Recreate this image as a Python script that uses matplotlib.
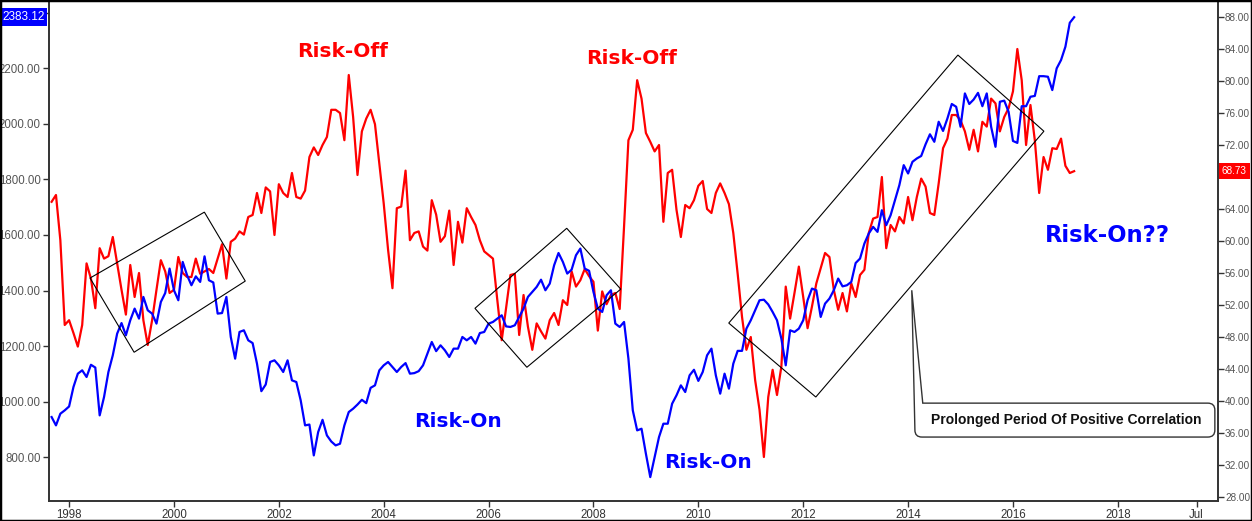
import matplotlib
matplotlib.use("Agg")
import matplotlib.pyplot as plt
import numpy as np
import pandas as pd
from matplotlib.path import Path
from matplotlib.patches import PathPatch, Polygon, Rectangle
from matplotlib.transforms import blended_transform_factory

# monthly closes, Sep 1997 .. Mar 2017
# red series -> right axis
RED_BY_YEAR = [
    [64.9, 65.75, 60.1, 49.5],
    [50.1, 48.5, 46.8, 49.5, 57.2, 55.3, 51.6, 59.1, 57.8, 58.1, 60.5, 57.2],
    [53.9, 50.8, 57.0, 53.0, 56.0, 50.1, 47.0, 50.1, 53.9, 57.6, 56.2, 53.5],
    [53.9, 58.0, 56.0, 55.5, 55.5, 57.8, 55.9, 56.2, 56.5, 56.0, 57.8, 59.6],
    [55.3, 59.9, 60.3, 61.2, 60.8, 63.0, 63.25, 66.0, 63.5, 66.7, 66.2, 60.75],
    [67.1, 66.0, 65.5, 68.5, 65.5, 65.3, 66.3, 70.5, 71.7, 70.75, 72.0, 73.0],
    [76.4, 76.4, 76.0, 72.6, 80.75, 75.5, 68.25, 73.7, 75.3, 76.4, 74.6, 69.7],
    [64.7, 58.9, 54.1, 64.1, 64.3, 68.8, 60.1, 61.0, 61.2, 59.3, 58.8, 65.1],
    [63.3, 59.9, 60.6, 63.8, 57.0, 62.4, 59.8, 64.1, 63.0, 62.0, 60.1, 58.7],
    [58.25, 57.8, 52.6, 47.6, 51.6, 55.75, 55.9, 48.25, 53.25, 49.3, 46.4, 49.7],
    [48.7, 47.8, 50.1, 51.0, 49.5, 52.6, 52.0, 56.2, 54.3, 55.1, 56.5, 55.6],
    [54.9, 48.8, 53.7, 52.1, 53.25, 53.5, 51.5, 61.8, 72.6, 73.9, 80.1, 77.8],
    [73.5, 72.4, 71.2, 72.0, 62.4, 68.5, 68.9, 63.9, 60.5, 64.5, 64.1, 65.1],
    [66.9, 67.5, 64.0, 63.5, 66.0, 67.2, 66.0, 64.6, 61.0, 55.9, 50.5, 46.4],
    [48.0, 42.6, 38.9, 33.0, 40.5, 43.9, 40.75, 44.3, 54.3, 50.3, 53.5, 56.8],
    [53.0, 49.1, 51.8, 54.7, 56.6, 58.5, 58.0, 53.9, 51.4, 53.5, 51.2, 54.7],
    [53.0, 55.75, 56.4, 61.0, 62.8, 63.0, 68.0, 59.1, 62.0, 61.2, 63.0, 62.2],
    [65.5, 62.6, 65.5, 67.8, 66.8, 63.5, 63.25, 67.2, 71.6, 72.8, 75.75, 75.75],
    [75.1, 73.7, 71.4, 73.9, 71.2, 74.9, 74.3, 77.8, 77.2, 73.7, 75.5, 76.6],
    [78.7, 84.0, 80.1, 72.0, 77.0, 72.6, 66.0, 70.5, 68.9, 71.6, 71.5, 72.8],
    [69.4, 68.5, 68.73],
]

# blue series -> left axis
BLUE_BY_YEAR = [
    [945, 915, 957, 969],
    [983, 1053, 1101, 1113, 1089, 1133, 1123, 951, 1017, 1107, 1167, 1245],
    [1283, 1239, 1293, 1335, 1299, 1377, 1329, 1317, 1281, 1359, 1391, 1479],
    [1401, 1365, 1503, 1455, 1419, 1451, 1431, 1523, 1437, 1429, 1317, 1319],
    [1377, 1233, 1155, 1251, 1257, 1221, 1211, 1137, 1038, 1062, 1143, 1149],
    [1131, 1107, 1149, 1077, 1071, 1005, 915, 918, 807, 891, 935, 879],
    [857, 843, 849, 915, 963, 975, 990, 1007, 995, 1050, 1059, 1113],
    [1131, 1143, 1125, 1107, 1125, 1139, 1101, 1103, 1110, 1131, 1173, 1215],
    [1182, 1203, 1185, 1161, 1191, 1191, 1233, 1221, 1233, 1209, 1247, 1251],
    [1281, 1287, 1299, 1311, 1271, 1269, 1275, 1305, 1335, 1377, 1395, 1413],
    [1439, 1401, 1425, 1491, 1535, 1503, 1461, 1475, 1527, 1551, 1479, 1471],
    [1395, 1335, 1323, 1383, 1401, 1281, 1269, 1287, 1155, 969, 897, 903],
    [813, 729, 801, 873, 921, 921, 993, 1023, 1059, 1035, 1095, 1115],
    [1075, 1107, 1167, 1191, 1095, 1029, 1101, 1047, 1137, 1183, 1183, 1263],
    [1293, 1329, 1365, 1367, 1350, 1323, 1293, 1227, 1131, 1257, 1251, 1263],
    [1293, 1365, 1407, 1401, 1305, 1353, 1371, 1401, 1443, 1415, 1419, 1431],
    [1499, 1515, 1569, 1605, 1629, 1611, 1689, 1635, 1671, 1725, 1779, 1851],
    [1821, 1863, 1875, 1884, 1926, 1962, 1935, 2007, 1974, 2019, 2071, 2061],
    [1989, 2109, 2071, 2087, 2111, 2063, 2109, 1989, 1917, 2079, 2083, 2043],
    [1938, 1931, 2063, 2063, 2097, 2100, 2171, 2171, 2169, 2121, 2199, 2229],
    [2277, 2363, 2383.12],
]

START = "1997-09-01"
LEFT_TICKS = [800, 1000, 1200, 1400, 1600, 1800, 2000, 2200, 2400]
RIGHT_TICKS = list(range(28, 92, 4))
X_TICKS = list(range(1998, 2020, 2)) + [2019.5]
X_TICKLABELS = [str(y) for y in range(1998, 2020, 2)] + ["Jul"]

# hand-drawn channels (year, left-axis value)
CHANNELS = [
    [(1998.40, 1445), (2000.58, 1682), (2001.36, 1434), (1999.24, 1178)],
    [(2005.74, 1336), (2007.49, 1624), (2008.52, 1405), (2006.73, 1124)],
    [(2010.58, 1283), (2014.95, 2247), (2016.59, 1973), (2012.24, 1017)],
]

LABELS = [
    ("Risk-Off", 2003.21, 2258, "red", 14.5),
    ("Risk-Off", 2008.72, 2236, "red", 14.5),
    ("Risk-On", 2005.42, 930, "blue", 14.5),
    ("Risk-On", 2010.18, 783, "blue", 14.5),
    ("Risk-On??", 2017.80, 1599, "blue", 16.3),
]

CALLOUT_TEXT = "Prolonged Period Of Positive Correlation"
CALLOUT_TIP = (2014.07, 1401)
CALLOUT_BOX = (2014.13, 2019.85, 995, 873)  # x0, x1, y_top, y_bottom


def monthly_x(n):
    d = pd.date_range(START, periods=n, freq="MS")
    return np.asarray(d.year + (d.month - 1) / 12.0)


red = np.array([v for yr in RED_BY_YEAR for v in yr])
blue = np.array([v for yr in BLUE_BY_YEAR for v in yr])
x_red = monthly_x(len(red))
x_blue = monthly_x(len(blue))

W, H = 1252, 521
fig = plt.figure(figsize=(W / 100, H / 100), dpi=100)
ax = fig.add_axes([49 / W, 20 / H, (1218 - 49) / W, 501 / H])
ax2 = ax.twinx()

TICK_FONT = dict(family="Liberation Sans", size=8.3)
RIGHT_FONT = dict(family="Liberation Sans", size=7.2)
GRAY = "#555555"

ax.set_xlim(1997.617, 2019.91)
ax.set_ylim(643, 2445)
ax2.set_ylim(27.5, 90.125)

ax2.plot(x_red, red, color="#ff0000", lw=1.6, zorder=2)
ax.plot(x_blue, blue, color="#0000ff", lw=1.6, zorder=3)
ax.set_zorder(ax2.get_zorder() + 1)
ax.patch.set_visible(False)

for ch in CHANNELS:
    ax.add_patch(Polygon(ch, closed=True, fill=False, ec="black", lw=0.8, zorder=4))

for txt, xx, yy, col, fs in LABELS:
    ax.text(xx, yy, txt, color=col, ha="center", va="center",
            fontsize=fs, fontweight="bold", family="DejaVu Sans", zorder=5)

# ticks and spines; the labels hidden under the last-value tags are left blank
ax.set_xticks(X_TICKS)
ax.set_xticklabels(X_TICKLABELS, color="#333333", **TICK_FONT)
ax.set_yticks(LEFT_TICKS)
ax.set_yticklabels(["" if v == 2400 else f"{v:.2f}" for v in LEFT_TICKS],
                   color=GRAY, **TICK_FONT)
ax2.set_yticks(RIGHT_TICKS)
ax2.set_yticklabels(["" if v == 68 else f"{v:.2f}" for v in RIGHT_TICKS],
                    color=GRAY, **RIGHT_FONT)
ax.tick_params(axis="both", length=4, width=1, color="#333333", pad=2)
ax2.tick_params(axis="y", length=4, width=1, color="#333333", pad=1)
for a in (ax, ax2):
    a.spines["top"].set_visible(False)
    for s in ("left", "right", "bottom"):
        a.spines[s].set_color("#333333")
        a.spines[s].set_linewidth(1.2)

# last-value tags
tl = blended_transform_factory(ax.transAxes, ax.transData)
ax.text(-0.004, blue[-1], f"{blue[-1]:.2f}", transform=tl, ha="right", va="center",
        color="white", fontsize=8.5, family="Liberation Sans", zorder=10, clip_on=False,
        bbox=dict(boxstyle="square,pad=0.25", fc="#0000ff", ec="none"))
tr = blended_transform_factory(ax2.transAxes, ax2.transData)
ax2.text(1.003, red[-1], f"{red[-1]:.2f}", transform=tr, ha="left", va="center",
         color="white", fontsize=7.2, family="Liberation Sans", zorder=10, clip_on=False,
         bbox=dict(boxstyle="square,pad=0.3", fc="#ff0000", ec="none"))

# callout bubble, built in display pixels from data anchors
fig.canvas.draw()
to_px = ax.transData.transform
tip = to_px(CALLOUT_TIP)
x0, x1, yt, yb = CALLOUT_BOX
(L, T), (R, B) = to_px((x0, yt)), to_px((x1, yb))
r = 7
inner = tip[0] + 11
verts = [tuple(tip), (inner, T), (R - r, T), (R, T), (R, T - r), (R, B + r), (R, B),
         (R - r, B), (L + r, B), (L, B), (L, B + r), tuple(tip)]
codes = [Path.MOVETO, Path.LINETO, Path.LINETO, Path.CURVE3, Path.CURVE3, Path.LINETO,
         Path.CURVE3, Path.CURVE3, Path.LINETO, Path.CURVE3, Path.CURVE3, Path.CLOSEPOLY]
bubble = PathPatch(Path(verts, codes), fc="white", ec="#333333", lw=1.0,
                   transform=None, zorder=6)
fig.add_artist(bubble)
fig.text(((L + R) / 2 + 1) / W, ((T + B) / 2) / H, CALLOUT_TEXT, ha="center", va="center",
         fontsize=10, fontweight="bold", family="Liberation Sans", color="#111111", zorder=7)

fig.add_artist(Rectangle((0, 0), 1, 1, transform=fig.transFigure, fill=False,
                         ec="black", lw=2.5, zorder=20))

fig.savefig("out.png", dpi=100)
